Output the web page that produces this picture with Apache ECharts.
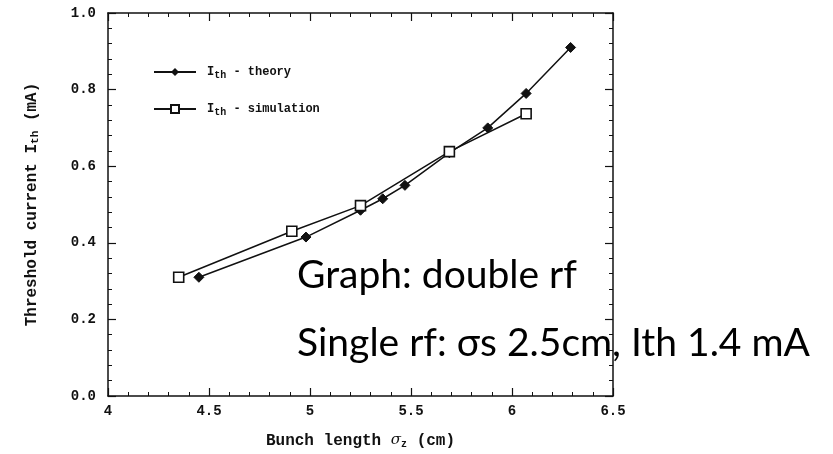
<!DOCTYPE html>
<html>
<head>
<meta charset="utf-8">
<style>
  html, body { margin: 0; padding: 0; background: #fff; }
  #chart { width: 833px; height: 454px; }
</style>
<script src="https://cdn.jsdelivr.net/npm/echarts@6/dist/echarts.min.js"></script>
</head>
<body>
<div id="chart"></div>
<script>
// Bunch length (cm) vs threshold current (mA).
const theoryX = [4.45, 4.98, 5.25, 5.36, 5.47, 5.69, 5.88, 6.07, 6.29];
const theoryY = [0.31, 0.415, 0.485, 0.515, 0.55, 0.635, 0.70, 0.79, 0.91];
const simX = [4.35, 4.91, 5.25, 5.69, 6.07];
const simY = [0.31, 0.43, 0.497, 0.638, 0.737];

const xTicks = [4, 4.5, 5, 5.5, 6, 6.5];
const yTicks = [0.0, 0.2, 0.4, 0.6, 0.8, 1.0];

const notes = ['Graph: double rf', 'Single rf: σs 2.5cm, Ith 1.4 mA'];

const INK = '#111';
// old typewriter-ish plot lettering
const MONO = "'Liberation Mono', 'DejaVu Sans Mono', monospace";

const pairs = (xs, ys) => xs.map((x, i) => [x, ys[i]]);

const baseAxis = {
  axisLine: { show: true, onZero: false, lineStyle: { color: INK, width: 1.5 } },
  axisTick: { show: true, inside: true, length: 8, lineStyle: { color: INK, width: 1.2 } },
  minorTick: { show: true, splitNumber: 5, length: 4, lineStyle: { color: INK, width: 1 } },
  splitLine: { show: false },
};

const chart = echarts.init(document.getElementById('chart'));

chart.setOption({
  animation: false,
  backgroundColor: '#fff',
  grid: { left: 108, right: 220, top: 13, bottom: 58 },
  xAxis: [
    {
      ...baseAxis,
      type: 'value',
      min: xTicks[0],
      max: xTicks[xTicks.length - 1],
      interval: 0.5,
      position: 'bottom',
      axisLabel: {
        color: INK, fontFamily: MONO, fontWeight: 'bold', fontSize: 14, margin: 8,
      },
      name: '{a|Bunch length }{g|σ}{s|z}{a| (cm)}',
      nameLocation: 'middle',
      nameGap: 36,
      nameTextStyle: {
        rich: {
          a: { fontFamily: MONO, fontWeight: 'bold', fontSize: 16, color: INK },
          g: { fontFamily: "'DejaVu Serif', serif", fontSize: 15, fontStyle: 'italic', color: INK },
          s: { fontFamily: MONO, fontWeight: 'bold', fontSize: 10, color: INK, padding: [7, 0, 0, 0] },
        },
      },
    },
    {
      ...baseAxis,
      type: 'value',
      min: xTicks[0],
      max: xTicks[xTicks.length - 1],
      interval: 0.5,
      position: 'top',
      axisLabel: { show: false },
    },
  ],
  yAxis: [
    {
      ...baseAxis,
      type: 'value',
      min: yTicks[0],
      max: yTicks[yTicks.length - 1],
      interval: 0.2,
      position: 'left',
      axisLabel: {
        color: INK, fontFamily: MONO, fontWeight: 'bold', fontSize: 14, margin: 12,
        formatter: (v) => v.toFixed(1),
      },
      name: '{a|Threshold current I}{s|th}{a| (mA)}',
      nameLocation: 'middle',
      nameGap: 67,
      nameRotate: 90,
      nameTextStyle: {
        rich: {
          a: { fontFamily: MONO, fontWeight: 'bold', fontSize: 16, color: INK },
          s: { fontFamily: MONO, fontWeight: 'bold', fontSize: 11, color: INK, padding: [7, 0, 0, 0] },
        },
      },
    },
    {
      ...baseAxis,
      type: 'value',
      min: yTicks[0],
      max: yTicks[yTicks.length - 1],
      interval: 0.2,
      position: 'right',
      axisLabel: { show: false },
    },
  ],
  legend: {
    left: 148,
    top: 61,
    orient: 'vertical',
    itemWidth: 42,
    itemHeight: 10,
    itemGap: 23,
    formatter: (name) => name === 'theory'
      ? '{a|I}{s|th}{a| - theory}'
      : '{a|I}{s|th}{a| - simulation}',
    textStyle: {
      padding: [0, 0, 0, 6],
      rich: {
        a: { fontFamily: MONO, fontWeight: 'bold', fontSize: 12, color: INK },
        s: { fontFamily: MONO, fontWeight: 'bold', fontSize: 10, color: INK, padding: [6, 0, 0, 0] },
      },
    },
    data: ['theory', 'simulation'],
  },
  series: [
    {
      name: 'theory',
      type: 'line',
      data: pairs(theoryX, theoryY),
      symbol: 'diamond',
      symbolSize: 10,
      lineStyle: { color: INK, width: 1.5 },
      itemStyle: { color: INK, borderColor: INK },
    },
    {
      name: 'simulation',
      type: 'line',
      data: pairs(simX, simY),
      symbol: 'rect',
      symbolSize: 10,
      lineStyle: { color: INK, width: 1.5 },
      itemStyle: { color: '#fff', borderColor: INK, borderWidth: 1.6 },
    },
  ],
  graphic: [
    {
      type: 'text',
      left: 297,
      top: 256,
      z: 10,
      style: { text: notes[0], font: "39px Lato, 'Open Sans', sans-serif", fill: '#000' },
    },
    {
      type: 'text',
      left: 297,
      top: 324,
      z: 10,
      style: { text: notes[1], font: "39px Lato, 'Open Sans', sans-serif", fill: '#000' },
    },
  ],
});
</script>
</body>
</html>
